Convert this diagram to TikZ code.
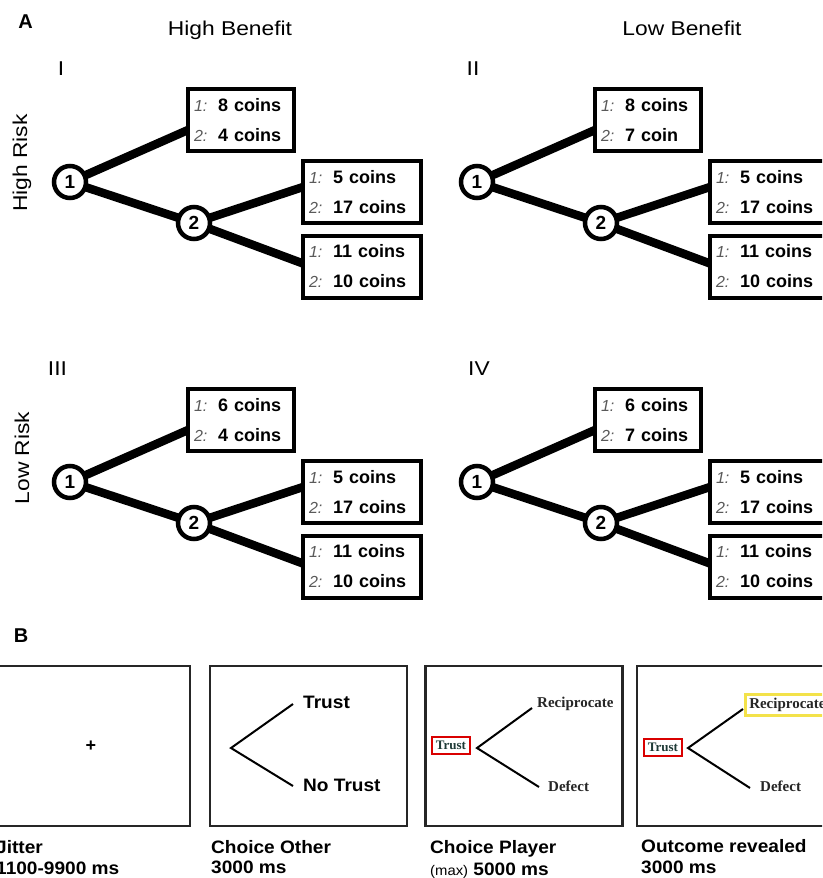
\documentclass[tikz,border=0pt]{standalone}
\usepackage{fontspec}
\setmainfont{Liberation Sans}
\newfontfamily\widefont[FakeStretch=1.14]{Liberation Sans}
\newfontfamily\wideb[FakeStretch=1.06]{Liberation Sans}
\newfontfamily\rmb{Liberation Serif}
\definecolor{pfxgray}{HTML}{5A5A5A}
\definecolor{tealdark}{HTML}{1E3A36}
\definecolor{ybox}{HTML}{F3E24A}
\newcommand\pfx[1]{\makebox[24pt][l]{\fontsize{16}{30}\selectfont\mdseries\itshape\color{pfxgray}#1}}
\tikzset{
  numcirc/.style={circle, draw, line width=4.5pt, fill=white, minimum size=32pt, inner sep=0pt, outer sep=0pt, font=\fontsize{19}{19}\selectfont\bfseries},
  topbox/.style={draw, line width=4pt, fill=white, minimum width=106pt, minimum height=62pt, text width=94pt, inner xsep=6pt, inner ysep=0pt, outer sep=0pt, align=left, font=\fontsize{18}{30}\selectfont\bfseries},
  sidebox/.style={topbox, minimum width=118pt, text width=106pt},
  branch/.style={line width=8.5pt},
  header/.style={font=\widefont\fontsize{20}{20}\selectfont},
  panel/.style={font=\bfseries\fontsize{20}{20}\selectfont, anchor=base},
  screen/.style={draw=black!85, line width=2.5pt, minimum width=197pt, minimum height=160pt, inner sep=0pt},
  twig/.style={line width=2pt},
  choice/.style={font=\wideb\bfseries\fontsize{18}{18}\selectfont, anchor=base west, inner sep=0pt},
  serifch/.style={font=\rmb\bfseries\fontsize{15}{15}\selectfont, anchor=base west, inner sep=0pt, text=black!85},
  redbox/.style={draw=red!85!black, line width=2pt, font=\rmb\bfseries\fontsize{13}{13}\selectfont, text=tealdark, minimum width=38pt, minimum height=17pt, inner sep=1pt},
  yelbox/.style={draw=ybox, line width=2.5pt, font=\rmb\bfseries\fontsize{15}{15}\selectfont, text=black!85, minimum height=21pt, inner xsep=4pt, inner ysep=1pt, anchor=west},
  caption/.style={font=\wideb\bfseries\fontsize{18}{18}\selectfont, anchor=base west, inner sep=0pt}
}
\newcommand\abtree[8]{%
\begin{scope}[shift={(#2)}]
 \node[numcirc] (#1c1) at (70,182) {1};
 \node[numcirc] (#1c2) at (194,223) {2};
 \node[topbox] (#1t) at (241,120) {\pfx{1:}#3\\\pfx{2:}#4};
 \node[sidebox] (#1m) at (362,192) {\pfx{1:}#5\\\pfx{2:}#6};
 \node[sidebox] (#1b) at (362,266.5) {\pfx{1:}#7\\\pfx{2:}#8};
 \draw[branch] (#1c1) -- ([yshift=-10pt]#1t.west);
 \draw[branch] (#1c1) -- (#1c2);
 \draw[branch] (#1c2) -- ([yshift=5pt]#1m.west);
 \draw[branch] (#1c2) -- ([yshift=3pt]#1b.west);
\end{scope}}
\begin{document}
\begin{tikzpicture}[x=1pt,y=-1pt]
\path[use as bounding box] (0,0) rectangle (822,878);
\fill[white] (0,0) rectangle (822,878);
\clip (0,0) rectangle (822,878);

% ---------- Panel A ----------
\node[panel] (A) at (25.5,28) {A};
\node[header, anchor=base] (hb) at (230,35) {High Benefit};
\node[header, anchor=base] (lb) at (682,35) {Low Benefit};
\node[header, anchor=base] (r1) at (61,75) {I};
\node[header, anchor=base] (r2) at (473,75) {II};
\node[header, anchor=base] (r3) at (57.5,375) {III};
\node[header, anchor=base] (r4) at (479,375) {IV};
\node[header, rotate=90] (hr) at (22,163) {High Risk};
\node[header, rotate=90] (lr) at (22,458) {Low Risk};

\abtree{a}{0,0}{8 coins}{4 coins}{5 coins}{17 coins}{11 coins}{10 coins}
\abtree{b}{407,0}{8 coins}{7 coin}{5 coins}{17 coins}{11 coins}{10 coins}
\abtree{c}{0,300}{6 coins}{4 coins}{5 coins}{17 coins}{11 coins}{10 coins}
\abtree{d}{407,300}{6 coins}{7 coins}{5 coins}{17 coins}{11 coins}{10 coins}

% ---------- Panel B ----------
\node[panel] (B) at (21,642) {B};
\node[screen] (s1) at (91.5,746) {};
\node[screen] (s2) at (308.5,746) {};
\node[screen] (s3) at (524,746) {};
\node[screen] (s4) at (735.5,746) {};

% screen 1
\node[font=\bfseries\fontsize{18}{18}\selectfont, inner sep=0pt] (plus) at (91,746) {+};

% screen 2
\coordinate (v2) at (231,748);
\coordinate (u2) at (293,704);
\coordinate (d2) at (293,786);
\draw[twig] (u2) -- (v2) -- (d2);
\node[choice] (t2) at (303,708) {Trust};
\node[choice] (n2) at (303,791) {No Trust};

% screen 3
\node[redbox] (tr3) at (451,745.5) {Trust};
\coordinate (v3) at (477,748);
\coordinate (u3) at (532,708);
\coordinate (d3) at (539,787);
\draw[twig] (u3) -- (v3) -- (d3);
\node[serifch] (rc3) at (537,707) {Reciprocate};
\node[serifch] (df3) at (548,791) {Defect};

% screen 4
\node[redbox] (tr4) at (663,747) {Trust};
\coordinate (v4) at (688,748);
\coordinate (u4) at (743,709);
\coordinate (d4) at (750,788);
\draw[twig] (u4) -- (v4) -- (d4);
\node[yelbox] (rc4) at (744,705) {Reciprocate};
\node[serifch] (df4) at (760,791) {Defect};

% captions
\node[caption] (c1a) at (-4,853) {Jitter};
\node[caption] (c1b) at (-4,874) {1100-9900 ms};
\node[caption] (c2a) at (211,853) {Choice Other};
\node[caption] (c2b) at (211,873) {3000 ms};
\node[caption] (c3a) at (430,853) {Choice Player};
\node[caption] (c3b) at (430,875) {{\mdseries\fontsize{14}{14}\selectfont (max)} 5000 ms};
\node[caption] (c4a) at (641,852) {Outcome revealed};
\node[caption] (c4b) at (641,873) {3000 ms};
\end{tikzpicture}
\end{document}
